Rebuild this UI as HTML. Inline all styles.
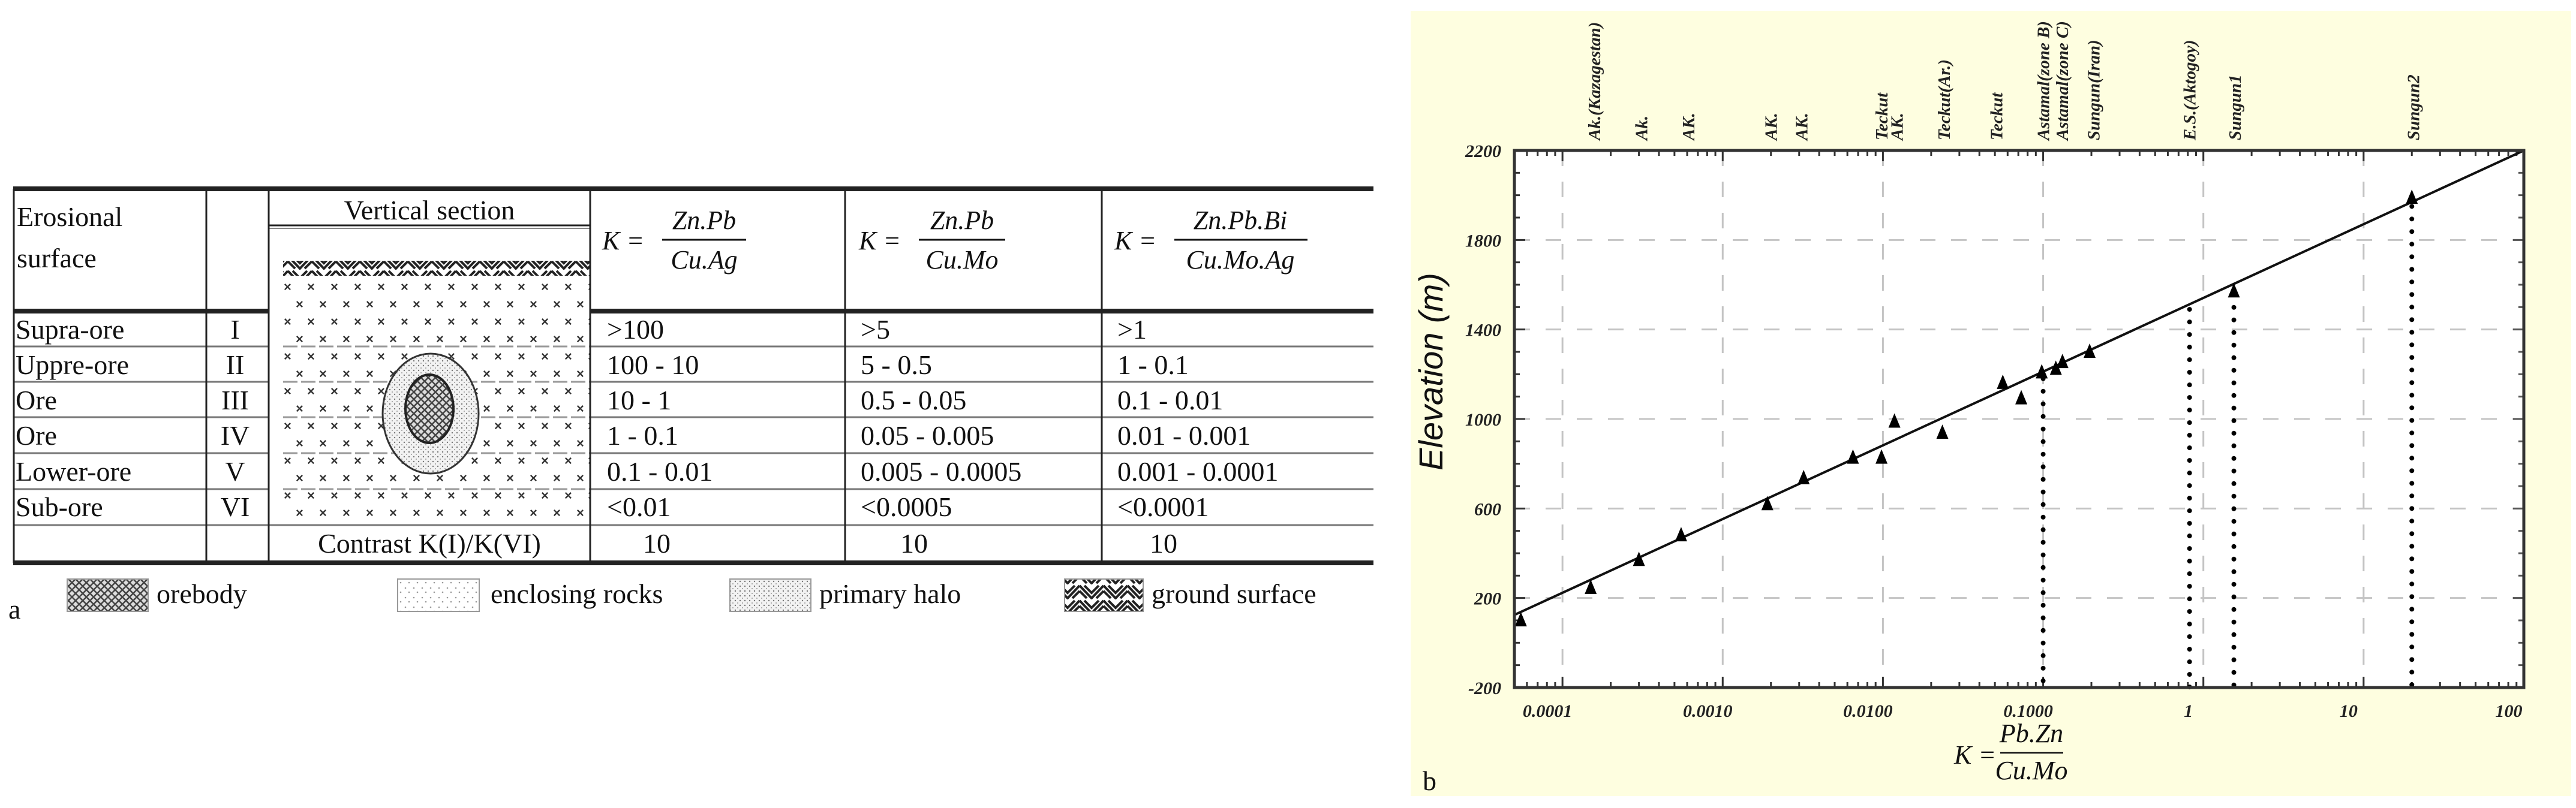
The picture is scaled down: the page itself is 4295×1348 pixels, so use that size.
<!DOCTYPE html>
<html><head><meta charset="utf-8">
<style>
html,body{margin:0;padding:0;background:#fff;}
svg{display:block;}
.t{font-family:"Liberation Serif",serif;font-size:46px;fill:#111;}
.f{font-family:"Liberation Serif",serif;font-style:italic;font-size:44px;fill:#111;}
.bi{font-family:"Liberation Serif",serif;font-style:italic;font-weight:bold;fill:#222;}
</style></head>
<body>
<svg id="root" width="4295" height="1348" viewBox="0 0 4295 1348" xmlns="http://www.w3.org/2000/svg">
<defs>
<pattern id="pCross" width="39" height="58" patternUnits="userSpaceOnUse">
<rect width="39" height="58" fill="#fff"/>
<text x="5" y="22" font-family="Liberation Sans" font-weight="bold" font-size="22" fill="#333">×</text>
<text x="-14" y="51" font-family="Liberation Sans" font-weight="bold" font-size="22" fill="#333">×</text>
<text x="25" y="51" font-family="Liberation Sans" font-weight="bold" font-size="22" fill="#333">×</text>
</pattern>
<pattern id="pZig" width="40" height="25" patternUnits="userSpaceOnUse">
<rect width="40" height="25" fill="#fff"/>
<path d="M0 2 L20 23 L40 2 M0 11 L12 23 M28 23 L40 11 M8 2 L20 14 L32 2" stroke="#222" stroke-width="4" fill="none"/>
</pattern>
<pattern id="pOre" width="12" height="12" patternUnits="userSpaceOnUse">
<rect width="12" height="12" fill="#ddd"/>
<path d="M0 0 L12 12 M12 0 L0 12" stroke="#444" stroke-width="2.5"/>
</pattern>
<pattern id="pHalo" width="8" height="8" patternUnits="userSpaceOnUse">
<rect width="8" height="8" fill="#f2f2f2"/>
<circle cx="2" cy="2" r="1.2" fill="#777"/><circle cx="6" cy="6" r="1" fill="#999"/>
</pattern>
<pattern id="pEncl" width="14" height="16" patternUnits="userSpaceOnUse">
<rect width="14" height="16" fill="#fff"/>
<circle cx="4" cy="5" r="1.3" fill="#999"/><circle cx="10" cy="12" r="1.3" fill="#999"/>
</pattern>
</defs>

<!-- ================= PANEL A: TABLE ================= -->
<g>
  <g>
    <rect x="472" y="435" width="512" height="25" fill="url(#pZig)"/>
    <rect x="472" y="460" width="512" height="414" fill="url(#pCross)"/>
    <g stroke="#999" stroke-width="3" stroke-dasharray="24 6">
      <line x1="472" y1="578" x2="984" y2="578"/><line x1="472" y1="637" x2="984" y2="637"/>
      <line x1="472" y1="696" x2="984" y2="696"/><line x1="472" y1="756" x2="984" y2="756"/>
      <line x1="472" y1="816" x2="984" y2="816"/>
    </g>
    <ellipse cx="718" cy="690" rx="80" ry="100" fill="url(#pHalo)" stroke="#333" stroke-width="3"/>
    <ellipse cx="716" cy="682" rx="40" ry="57" fill="url(#pOre)" stroke="#222" stroke-width="4"/>
  </g>
  <g stroke="#222" fill="none">
    <line x1="22" y1="315" x2="2290" y2="315" stroke-width="8"/>
    <line x1="22" y1="519" x2="448" y2="519" stroke-width="8"/>
    <line x1="984" y1="519" x2="2290" y2="519" stroke-width="8"/>
    <line x1="448" y1="376" x2="984" y2="376" stroke-width="3"/>
    <line x1="448" y1="381" x2="984" y2="381" stroke-width="2" stroke="#888"/>
    <line x1="22" y1="939" x2="2290" y2="939" stroke-width="8"/>
    <g stroke-width="3" stroke="#777">
      <line x1="22" y1="578" x2="448" y2="578"/><line x1="984" y1="578" x2="2290" y2="578"/>
      <line x1="22" y1="637" x2="448" y2="637"/><line x1="984" y1="637" x2="2290" y2="637"/>
      <line x1="22" y1="696" x2="448" y2="696"/><line x1="984" y1="696" x2="2290" y2="696"/>
      <line x1="22" y1="756" x2="448" y2="756"/><line x1="984" y1="756" x2="2290" y2="756"/>
      <line x1="22" y1="816" x2="448" y2="816"/><line x1="984" y1="816" x2="2290" y2="816"/>
      <line x1="22" y1="876" x2="2290" y2="876"/>
    </g>
    <g stroke-width="3">
      <line x1="23" y1="315" x2="23" y2="939"/>
      <line x1="344" y1="315" x2="344" y2="939"/>
      <line x1="448" y1="315" x2="448" y2="939"/>
      <line x1="984" y1="315" x2="984" y2="939"/>
      <line x1="1409" y1="315" x2="1409" y2="939"/>
      <line x1="1837" y1="315" x2="1837" y2="939"/>
    </g>
  </g>
  <text class="t" x="28" y="377">Erosional</text>
  <text class="t" x="28" y="446">surface</text>
  <text class="t" x="716" y="366" text-anchor="middle" font-size="42">Vertical section</text>

  <g>
    <text class="f" x="1004" y="416">K =</text>
    <text class="f" x="1174" y="382" text-anchor="middle">Zn.Pb</text>
    <line x1="1104" y1="400" x2="1244" y2="400" stroke="#111" stroke-width="3"/>
    <text class="f" x="1174" y="448" text-anchor="middle">Cu.Ag</text>
  </g>
  <g>
    <text class="f" x="1432" y="416">K =</text>
    <text class="f" x="1604" y="382" text-anchor="middle">Zn.Pb</text>
    <line x1="1532" y1="400" x2="1676" y2="400" stroke="#111" stroke-width="3"/>
    <text class="f" x="1604" y="448" text-anchor="middle">Cu.Mo</text>
  </g>
  <g>
    <text class="f" x="1858" y="416">K =</text>
    <text class="f" x="2068" y="382" text-anchor="middle">Zn.Pb.Bi</text>
    <line x1="1958" y1="400" x2="2180" y2="400" stroke="#111" stroke-width="3"/>
    <text class="f" x="2068" y="448" text-anchor="middle">Cu.Mo.Ag</text>
  </g>

  <g>
    <g>
      <text class="t" x="26" y="565">Supra-ore</text><text class="t" x="392" y="565" text-anchor="middle">I</text>
      <text class="t" x="1012" y="565">&gt;100</text><text class="t" x="1435" y="565">&gt;5</text><text class="t" x="1863" y="565">&gt;1</text>
    </g>
    <g>
      <text class="t" x="26" y="624">Uppre-ore</text><text class="t" x="392" y="624" text-anchor="middle">II</text>
      <text class="t" x="1012" y="624">100 - 10</text><text class="t" x="1435" y="624">5 - 0.5</text><text class="t" x="1863" y="624">1 - 0.1</text>
    </g>
    <g>
      <text class="t" x="26" y="683">Ore</text><text class="t" x="392" y="683" text-anchor="middle">III</text>
      <text class="t" x="1012" y="683">10 - 1</text><text class="t" x="1435" y="683">0.5 - 0.05</text><text class="t" x="1863" y="683">0.1 - 0.01</text>
    </g>
    <g>
      <text class="t" x="26" y="742">Ore</text><text class="t" x="392" y="742" text-anchor="middle">IV</text>
      <text class="t" x="1012" y="742">1 - 0.1</text><text class="t" x="1435" y="742">0.05 - 0.005</text><text class="t" x="1863" y="742">0.01 - 0.001</text>
    </g>
    <g>
      <text class="t" x="26" y="802">Lower-ore</text><text class="t" x="392" y="802" text-anchor="middle">V</text>
      <text class="t" x="1012" y="802">0.1 - 0.01</text><text class="t" x="1435" y="802">0.005 - 0.0005</text><text class="t" x="1863" y="802">0.001 - 0.0001</text>
    </g>
    <g>
      <text class="t" x="26" y="861">Sub-ore</text><text class="t" x="392" y="861" text-anchor="middle">VI</text>
      <text class="t" x="1012" y="861">&lt;0.01</text><text class="t" x="1435" y="861">&lt;0.0005</text><text class="t" x="1863" y="861">&lt;0.0001</text>
    </g>
    <g>
      <text class="t" x="716" y="922" text-anchor="middle" font-size="44">Contrast K(I)/K(VI)</text>
      <text class="t" x="1095" y="922" text-anchor="middle">10</text>
      <text class="t" x="1524" y="922" text-anchor="middle">10</text>
      <text class="t" x="1940" y="922" text-anchor="middle">10</text>
    </g>
  </g>

  <g>
    <text class="t" x="14" y="1032" font-size="50">a</text>
    <rect x="112" y="966" width="135" height="54" fill="url(#pOre)" stroke="#999" stroke-width="2"/>
    <text class="t" x="261" y="1006">orebody</text>
    <rect x="663" y="966" width="136" height="54" fill="url(#pEncl)" stroke="#999" stroke-width="2"/>
    <text class="t" x="818" y="1006">enclosing rocks</text>
    <rect x="1217" y="966" width="135" height="54" fill="url(#pHalo)" stroke="#999" stroke-width="2"/>
    <text class="t" x="1366" y="1006">primary halo</text>
    <rect x="1775" y="966" width="131" height="54" fill="url(#pZig)" stroke="#999" stroke-width="2"/>
    <text class="t" x="1920" y="1006">ground surface</text>
  </g>
</g>

<!-- ================= PANEL B: CHART ================= -->
<g>
  <rect x="2352" y="18" width="1935" height="1310" fill="#fefee0"/>
  <rect x="2525" y="251" width="1683" height="896" fill="#fff"/>
  <g id="grid"></g>
  <g id="ticks"></g>
  <g id="dotted"></g>
  <g id="fit"></g>
  <g id="points"></g>
  <g id="toplabels"></g>
  <g id="ylabels"></g>
  <g id="xlabels"></g>
  <rect x="2525" y="251" width="1683" height="896" fill="none" stroke="#333" stroke-width="5"/>
  <text x="2405" y="620" transform="rotate(-90 2405 620)" text-anchor="middle" font-family="Liberation Sans, sans-serif" font-style="italic" font-size="56" fill="#111">Elevation (m)</text>
  <g>
    <text class="f" x="3258" y="1274" font-size="36">K =</text>
    <text class="f" x="3387" y="1238" text-anchor="middle" font-size="36">Pb.Zn</text>
    <line x1="3335" y1="1256" x2="3440" y2="1256" stroke="#111" stroke-width="2.5"/>
    <text class="f" x="3387" y="1300" text-anchor="middle" font-size="36">Cu.Mo</text>
  </g>
  <text class="t" x="2372" y="1318" font-size="48">b</text>
</g>

<script>
const kValues = [0.000055, 0.00015, 0.0003, 0.00055, 0.0019, 0.0032, 0.0065, 0.0098, 0.0118, 0.0235, 0.056, 0.073, 0.098, 0.12, 0.132, 0.195, 1.55, 20];
const elevations = [100, 245, 370, 480, 619, 735, 827, 827, 988, 938, 1161, 1092, 1208, 1224, 1254, 1300, 1570, 1988];
const depositNames = ["Ak.(Kazagestan)", "Ak.", "AK.", "AK.", "AK.", "Teckut", "AK.", "Teckut(Ar.)", "Teckut", "Astamal(zone B)", "Astamal(zone C)", "Sungun(Iran)", "E.S.(Aktogoy)", "Sungun1", "Sungun2"];
const depositK = [0.000158, 0.00031, 0.00061, 0.002, 0.0031, 0.0098, 0.0122, 0.024, 0.051, 0.1, 0.131, 0.206, 0.82, 1.57, 20.4];
const dottedK = [0.1, 0.82, 1.55, 20];
const dottedTop = [1180, 1490, 1555, 1950];
const fitSlope = 329.4;
const fitIntercept = 1541;
const xTickValues = [0.0001, 0.001, 0.01, 0.1, 1, 10, 100];
const xTickLabels = ["0.0001", "0.0010", "0.0100", "0.1000", "1", "10", "100"];
const yTickValues = [-200, 200, 600, 1000, 1400, 1800, 2200];

const NS = "http://www.w3.org/2000/svg";
const PL = 2525, PR = 4208, PT = 251, PB = 1147;
const logMin = -4.30, logMax = 2;
function xs(k){ return PL + (Math.log10(k) - logMin) / (logMax - logMin) * (PR - PL); }
function ys(v){ return PT + (2200 - v) / 2400 * (PB - PT); }
function mk(tag, attrs, parent){ const e = document.createElementNS(NS, tag); for (const a in attrs) e.setAttribute(a, attrs[a]); parent.appendChild(e); return e; }

const grid = document.getElementById('grid');
xTickValues.forEach(k => {
  if (k <= 0.0001 - 1e-12 || k >= 100) return;
  const x = xs(k);
  const l = mk('line', {x1:x, y1:PT, x2:x, y2:PB, stroke:'#c4c4c4', 'stroke-width':3, 'stroke-dasharray':'26 26'}, grid);
  
  
});
yTickValues.forEach(v => {
  if (v <= -200 || v >= 2200) return;
  const y = ys(v);
  const l = mk('line', {x1:PL, y1:y, x2:PR, y2:y, stroke:'#c4c4c4', 'stroke-width':3, 'stroke-dasharray':'26 26'}, grid);
  
  
});

const ticks = document.getElementById('ticks');
for (let v = -200; v <= 2200; v += 100) {
  const y = ys(v), major = (v + 200) % 400 === 0;
  const len = major ? 18 : 9;
  const t1 = mk('line', {x1:PL, y1:y, x2:PL+len, y2:y, stroke:'#333', 'stroke-width':3}, ticks);
  
  
  const t2 = mk('line', {x1:PR, y1:y, x2:PR-len, y2:y, stroke:'#555', 'stroke-width':3}, ticks);
  
  
}
for (let d = -5; d <= 1; d++) {
  for (let m = 1; m <= 9; m++) {
    const k = m * Math.pow(10, d);
    const lg = Math.log10(k);
    if (lg < logMin || lg > logMax) continue;
    const x = xs(k), len = m === 1 ? 18 : 9;
    const t = mk('line', {x1:x, y1:PT, x2:x, y2:PT+len, stroke:'#333', 'stroke-width':3}, ticks);
    
    
    const tb = mk('line', {x1:x, y1:PB, x2:x, y2:PB-len, stroke:'#333', 'stroke-width':3}, ticks);
    
    
  }
}

const dotted = document.getElementById('dotted');
dottedK.forEach((k, i) => {
  const x = xs(k);
  const l = mk('line', {x1:x, y1:ys(dottedTop[i]), x2:x, y2:PB, stroke:'#000', 'stroke-width':8, 'stroke-linecap':'round', 'stroke-dasharray':'0 21'}, dotted);
  
  
});

const fit = document.getElementById('fit');
const fl = mk('line', {x1:PL, y1:ys(fitIntercept + fitSlope*logMin), x2:PR, y2:ys(fitIntercept + fitSlope*logMax), stroke:'#111', 'stroke-width':4}, fit);



const pts = document.getElementById('points');
kValues.forEach((k, i) => {
  const x = xs(k), y = ys(elevations[i]);
  const p = mk('polygon', {points:`${x},${y-14} ${x-10},${y+10} ${x+10},${y+10}`, fill:'#000'}, pts);
  
  
});

const tl = document.getElementById('toplabels');
depositNames.forEach((n, i) => {
  const x = xs(depositK[i]) + 10, y = 234;
  const t = mk('text', {x:x, y:y, transform:`rotate(-90 ${x} ${y})`, class:'bi', 'font-size':29}, tl);
  t.textContent = n;
  
  
});

const yl = document.getElementById('ylabels');
yTickValues.forEach(v => {
  const t = mk('text', {x:2503, y:ys(v)+11, 'text-anchor':'end', class:'bi', 'font-size':30}, yl);
  t.textContent = String(v);
  
  
});

const xl = document.getElementById('xlabels');
xTickValues.forEach((k, i) => {
  const t = mk('text', {x:xs(k)-25, y:1196, 'text-anchor':'middle', class:'bi', 'font-size':30}, xl);
  t.textContent = xTickLabels[i];
  
  
});
</script>
</svg>
</body></html>
